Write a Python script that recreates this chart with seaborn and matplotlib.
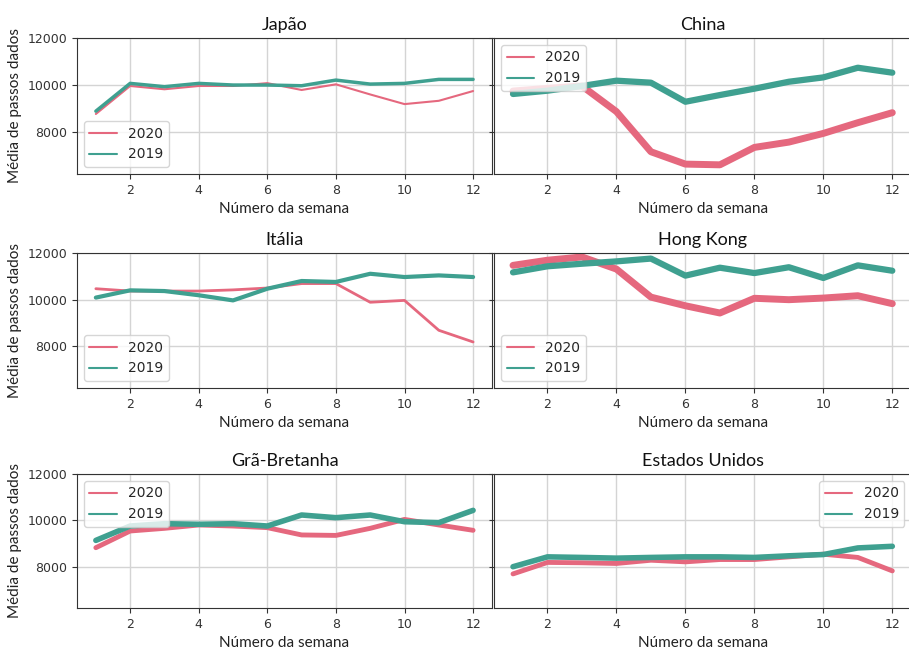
import matplotlib
matplotlib.use("Agg")
import matplotlib.pyplot as plt
import seaborn as sns
import pandas as pd

# weekly mean steps
weeks = list(range(1, 13))
countries = ["Japão", "China", "Itália", "Hong Kong", "Grã-Bretanha", "Estados Unidos"]

japao_2020 = [8770, 9960, 9820, 9960, 9960, 10080, 9790, 10030, 9600, 9190, 9330, 9745]
japao_2019 = [8890, 10070, 9930, 10070, 10000, 10000, 9970, 10210, 10040, 10070, 10240, 10240]
china_2020 = [9745, 9860, 9960, 8870, 7165, 6640, 6610, 7350, 7575, 7945, 8400, 8825]
china_2019 = [9620, 9760, 9960, 10185, 10100, 9290, 9575, 9845, 10140, 10325, 10735, 10525]
italia_2020 = [10470, 10370, 10370, 10370, 10420, 10500, 10690, 10690, 9890, 9970, 8690, 8190]
italia_2019 = [10090, 10400, 10370, 10190, 9970, 10470, 10800, 10760, 11110, 10970, 11040, 10970]
hk_2020 = [11470, 11690, 11830, 11310, 10110, 9740, 9430, 10060, 10000, 10070, 10170, 9830]
hk_2019 = [11170, 11430, 11540, 11640, 11760, 11030, 11370, 11140, 11390, 10930, 11470, 11240]
gb_2020 = [8820, 9540, 9655, 9800, 9755, 9685, 9370, 9350, 9655, 10040, 9800, 9570]
gb_2019 = [9135, 9755, 9855, 9830, 9855, 9755, 10230, 10115, 10230, 9940, 9900, 10430]
eua_2020 = [7690, 8185, 8170, 8140, 8280, 8210, 8310, 8310, 8425, 8540, 8400, 7820]
eua_2019 = [8000, 8425, 8400, 8370, 8400, 8425, 8425, 8400, 8470, 8525, 8810, 8880]

series = {
    "Japão": (japao_2020, japao_2019),
    "China": (china_2020, china_2019),
    "Itália": (italia_2020, italia_2019),
    "Hong Kong": (hk_2020, hk_2019),
    "Grã-Bretanha": (gb_2020, gb_2019),
    "Estados Unidos": (eua_2020, eua_2019),
}

rows = []
for c in countries:
    for year, vals in zip(["2020", "2019"], series[c]):
        for w, v in zip(weeks, vals):
            rows.append({"pais": c, "ano": year, "semana": w, "passos": v})
df = pd.DataFrame(rows)

# line thickness per panel (2020, 2019)
widths = {
    "Japão": (1.5, 2.5),
    "China": (5, 4.5),
    "Itália": (2, 3),
    "Hong Kong": (5, 4.5),
    "Grã-Bretanha": (3.5, 4),
    "Estados Unidos": (3.5, 4),
}
legend_loc = {
    "Japão": "lower left",
    "China": "upper left",
    "Itália": "lower left",
    "Hong Kong": "lower left",
    "Grã-Bretanha": "upper left",
    "Estados Unidos": "upper right",
}
colors = {"2020": "#e5687e", "2019": "#3fa090"}

sns.set_style("ticks")
plt.rcParams["font.family"] = ["Lato", "DejaVu Sans"]

fig = plt.figure(figsize=(9.09, 6.49), dpi=100)

col_x = [0.0847, 0.5435]
col_w = [0.4565, 0.459]
row_y = [0.7319, 0.4022, 0.0632]
row_h = [0.2096, 0.208, 0.2065]

for i, c in enumerate(countries):
    r, k = divmod(i, 2)
    ax = fig.add_axes([col_x[k], row_y[r], col_w[k], row_h[r]])
    sub = df[df["pais"] == c]
    for j, year in enumerate(["2020", "2019"]):
        d = sub[sub["ano"] == year]
        sns.lineplot(data=d, x="semana", y="passos", ax=ax, color=colors[year],
                     linewidth=widths[c][j], label=year)
    ax.set_xlim(0.45, 12.55)
    ax.set_ylim(6220, 12000)
    ax.set_xticks([2, 4, 6, 8, 10, 12])
    ax.set_yticks([8000, 10000, 12000])
    ax.grid(True, color="#d4d4d4", linewidth=1)
    ax.set_axisbelow(True)
    for s in ax.spines.values():
        s.set_visible(True)
        s.set_color("#333333")
    ax.tick_params(labelsize=9, colors="#333333")
    for t in ax.get_xticklabels() + ax.get_yticklabels():
        t.set_family("DejaVu Sans")
    ax.set_title(c, fontsize=13, color="#111111")
    ax.set_xlabel("Número da semana", fontsize=11, color="#222222")
    if k == 0:
        ax.set_ylabel("Média de passos dados", fontsize=11, color="#222222")
    else:
        ax.set_ylabel("")
        ax.set_yticklabels([])
    leg = ax.legend(loc=legend_loc[c], fontsize=10, frameon=True)
    for t in leg.get_texts():
        t.set_family("DejaVu Sans")
    for h in leg.get_lines():
        h.set_linewidth(1.5)

fig.savefig("out.png", dpi=100)
